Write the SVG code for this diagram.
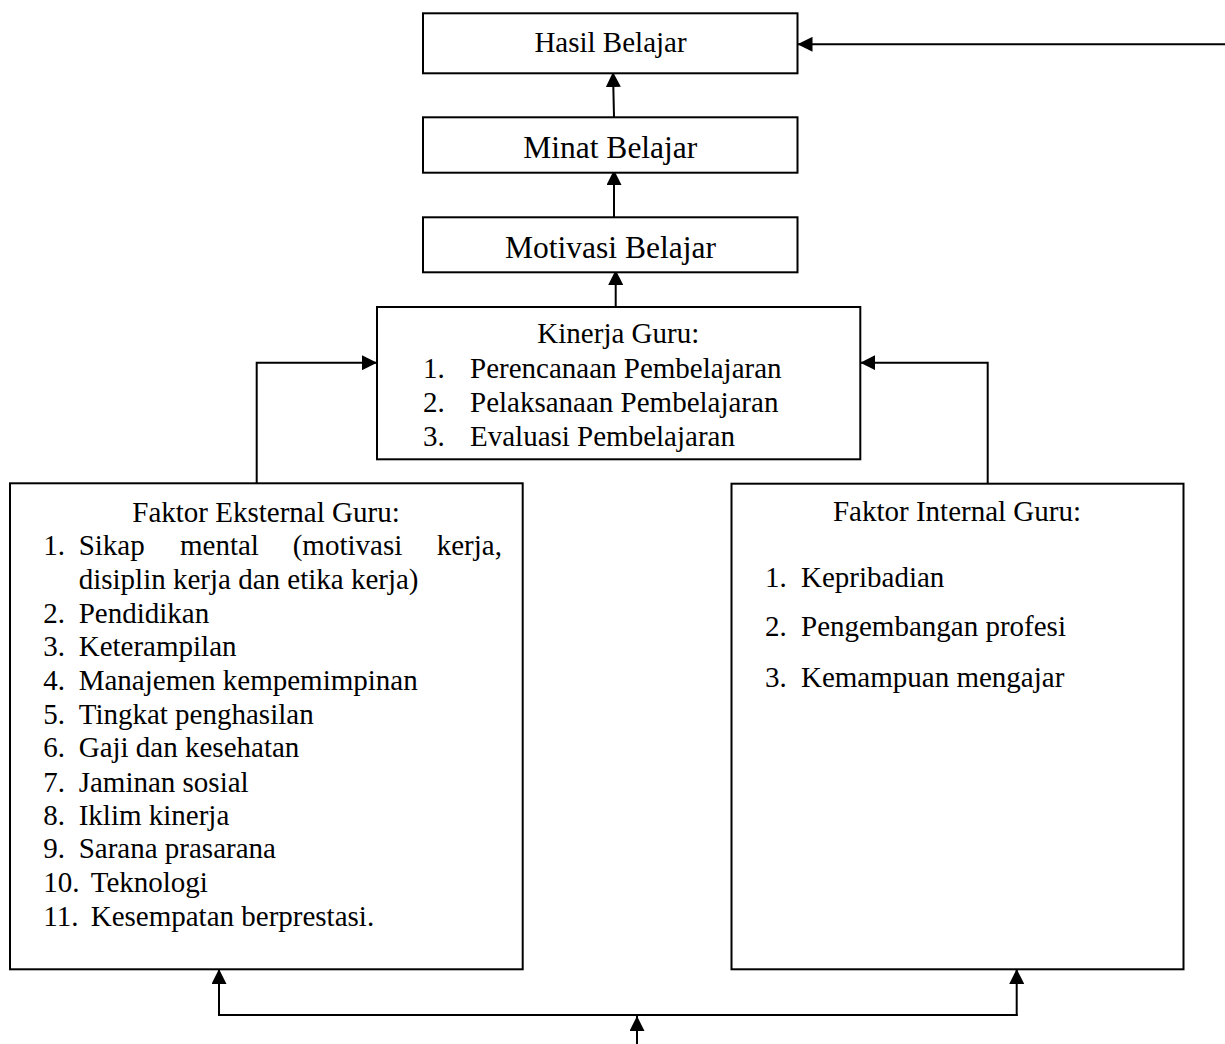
<svg xmlns="http://www.w3.org/2000/svg" width="1225" height="1044" viewBox="0 0 1225 1044">
  <style>
    .box { fill: #ffffff; stroke: #000000; stroke-width: 2; }
    .wire { fill: none; stroke: #000000; stroke-width: 2; }
    text { font-family: "Liberation Serif", "Times New Roman", serif; fill: #000000; font-size: 29px; }
    .big { font-size: 31.5px; }
    .mid { text-anchor: middle; }
  </style>
  <defs>
    <marker id="arrow" viewBox="0 0 15 15" refX="15" refY="7.5" markerWidth="15" markerHeight="15" markerUnits="userSpaceOnUse" orient="auto">
      <path d="M0,0 L15,7.5 L0,15 z" fill="#000000"/>
    </marker>
  </defs>

  <rect width="1225" height="1044" fill="#ffffff"/>

  <!-- connectors -->
  <g id="connectors">
    <line class="wire" x1="1225" y1="44.3" x2="797.5" y2="44.3" marker-end="url(#arrow)"/>
    <line class="wire" x1="614" y1="117" x2="613" y2="72" marker-end="url(#arrow)"/>
    <line class="wire" x1="614" y1="217" x2="614" y2="170" marker-end="url(#arrow)"/>
    <line class="wire" x1="615.7" y1="307" x2="615.7" y2="270" marker-end="url(#arrow)"/>
    <polyline class="wire" points="256.7,483 256.7,362.7 377,362.7" marker-end="url(#arrow)"/>
    <polyline class="wire" points="987.7,483.7 987.7,362.7 860.3,362.7" marker-end="url(#arrow)"/>
    <line class="wire" x1="218" y1="1015" x2="1017.7" y2="1015"/>
    <line class="wire" x1="219" y1="1016" x2="219" y2="969" marker-end="url(#arrow)"/>
    <line class="wire" x1="1016.7" y1="1016" x2="1016.7" y2="969" marker-end="url(#arrow)"/>
    <line class="wire" x1="637" y1="1044" x2="637" y2="1016" marker-end="url(#arrow)"/>
  </g>

  <!-- nodes -->
  <g id="hasil-belajar">
    <rect class="box" x="423" y="13.3" width="374.5" height="60"/>
    <text class="mid" x="610.5" y="51.7">Hasil Belajar</text>
  </g>

  <g id="minat-belajar">
    <rect class="box" x="423" y="117.3" width="374.5" height="55.4"/>
    <text class="big mid" x="610.3" y="157.5">Minat Belajar</text>
  </g>

  <g id="motivasi-belajar">
    <rect class="box" x="423" y="217.3" width="374.5" height="55"/>
    <text class="big mid" x="610.5" y="258.3">Motivasi Belajar</text>
  </g>

  <g id="kinerja-guru">
    <rect class="box" x="377" y="307" width="483.3" height="152.3"/>
    <text class="mid" x="618.3" y="343.3">Kinerja Guru:</text>
    <text x="423" y="378">1.</text><text x="470" y="378">Perencanaan Pembelajaran</text>
    <text x="423" y="412">2.</text><text x="470" y="412">Pelaksanaan Pembelajaran</text>
    <text x="423" y="446">3.</text><text x="470" y="446">Evaluasi Pembelajaran</text>
  </g>

  <g id="faktor-eksternal">
    <rect class="box" x="10" y="483.3" width="512.7" height="486"/>
    <text class="mid" x="266" y="521.7">Faktor Eksternal Guru:</text>
    <text x="43.3" y="555">1.</text>
    <text y="555"><tspan x="78.7">Sikap</tspan><tspan x="180">mental</tspan><tspan x="292.7">(motivasi</tspan><tspan x="436.7">kerja,</tspan></text>
    <text x="78.7" y="589">disiplin kerja dan etika kerja)</text>
    <text x="43.3" y="622.7">2.</text><text x="78.7" y="622.7">Pendidikan</text>
    <text x="43.3" y="656.3">3.</text><text x="78.7" y="656.3">Keterampilan</text>
    <text x="43.3" y="690">4.</text><text x="78.7" y="690">Manajemen kempemimpinan</text>
    <text x="43.3" y="723.5">5.</text><text x="78.7" y="723.5">Tingkat penghasilan</text>
    <text x="43.3" y="757.3">6.</text><text x="78.7" y="757.3">Gaji dan kesehatan</text>
    <text x="43.3" y="791.7">7.</text><text x="78.7" y="791.7">Jaminan sosial</text>
    <text x="43.3" y="825">8.</text><text x="78.7" y="825">Iklim kinerja</text>
    <text x="43.3" y="858.3">9.</text><text x="78.7" y="858.3">Sarana prasarana</text>
    <text x="43.3" y="891.7">10.</text><text x="90.7" y="891.7">Teknologi</text>
    <text x="43.3" y="926">11.</text><text x="90.7" y="926">Kesempatan berprestasi.</text>
  </g>

  <g id="faktor-internal">
    <rect class="box" x="731.5" y="483.7" width="452" height="485.6"/>
    <text class="mid" x="957" y="520.7">Faktor Internal Guru:</text>
    <text x="765" y="586.5">1.</text><text x="801" y="586.5">Kepribadian</text>
    <text x="765" y="635.7">2.</text><text x="801" y="635.7">Pengembangan profesi</text>
    <text x="765" y="686.7">3.</text><text x="801" y="686.7">Kemampuan mengajar</text>
  </g>
</svg>
